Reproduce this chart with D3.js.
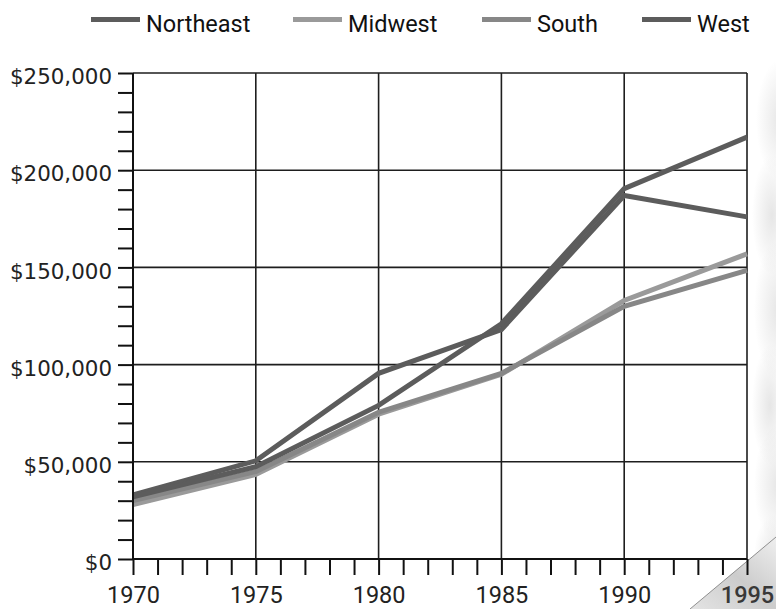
<!DOCTYPE html>
<html>
<head>
<meta charset="utf-8">
<script src="https://cdn.jsdelivr.net/npm/d3@7"></script>
<style>
  html, body { margin: 0; padding: 0; background: #fff; }
  svg { display: block; }
</style>
</head>
<body>
<svg id="chart" width="776" height="609"></svg>
<script>
/* global d3 */
(function() {
    'use strict';

    // values
    var years = [1970, 1975, 1980, 1985, 1990, 1995],
    northeast = [33000, 50500, 95500, 118000, 187000, 176000],
    midwest = [28000, 43500, 74500, 95000, 133000, 157000],
    south = [30000, 45000, 75500, 95500, 130000, 148500],
    west = [32000, 47500, 79000, 121000, 190500, 217000],
    regions = ['Northeast', 'Midwest', 'South', 'West'],
    COLS = ['#5c5c5c', '#9a9a9a', '#878787', '#5c5c5c'],
    yTicks = [0, 50000, 100000, 150000, 200000, 250000];

    var series = [northeast, midwest, south, west];

    var svg = d3.select('#chart'),
    margin = {left: 133, right: 29, top: 73, bottom: 50},
    W = 776, H = 609,
    x = d3.scaleLinear().domain([1970, 1995]).range([margin.left, W - margin.right]),
    y = d3.scaleLinear().domain([0, 250000]).range([H - margin.bottom, margin.top]);

    // soft shading on the right and the page curl
    var defs = svg.append('defs');
    var blob = defs.append('radialGradient').attr('id', 'blob');
    blob.append('stop').attr('offset', '0%').attr('stop-color', '#d2d2d2');
    blob.append('stop').attr('offset', '100%').attr('stop-color', '#d2d2d2').attr('stop-opacity', 0);
    var curl = defs.append('linearGradient').attr('id', 'curl')
        .attr('x1', 0).attr('y1', 1).attr('x2', 1).attr('y2', 0);
    curl.append('stop').attr('offset', '0%').attr('stop-color', '#e4e4e4');
    curl.append('stop').attr('offset', '50%').attr('stop-color', '#cccccc');
    curl.append('stop').attr('offset', '100%').attr('stop-color', '#efefef');

    [[780, 120, 24, 60], [772, 215, 20, 60], [778, 310, 24, 70], [770, 405, 18, 60],
        [778, 485, 24, 60], [774, 555, 20, 40]].forEach(function(b) {
        svg.append('ellipse').attr('cx', b[0]).attr('cy', b[1]).attr('rx', b[2]).attr('ry', b[3])
            .attr('fill', 'url(#blob)').attr('opacity', 0.55);
    });

    // grid
    var grid = svg.append('g').attr('stroke', '#1e1e1e').attr('stroke-width', 1.6);
    grid.selectAll('line.h').data(yTicks.slice(1)).enter().append('line').attr('class', 'h')
        .attr('x1', x(1970)).attr('x2', x(1995))
        .attr('y1', function(d) { return y(d); }).attr('y2', function(d) { return y(d); });
    grid.selectAll('line.v').data(years.slice(1)).enter().append('line').attr('class', 'v')
        .attr('y1', y(0)).attr('y2', y(250000))
        .attr('x1', function(d) { return x(d); }).attr('x2', function(d) { return x(d); });

    // lines
    var line = d3.line()
        .x(function(d, i) { return x(years[i]); })
        .y(function(d) { return y(d); });
    svg.append('g').selectAll('path').data(series).enter().append('path')
        .attr('d', line)
        .attr('fill', 'none')
        .attr('stroke', function(d, i) { return COLS[i]; })
        .attr('stroke-width', 5);

    // axes
    var yAxis = d3.axisLeft(y).tickValues(d3.range(0, 250001, 10000)).tickSize(15)
        .tickFormat(function(d) { return yTicks.indexOf(d) >= 0 ? (d === 0 ? '$0' : d3.format('$,')(d)) : ''; })
        .tickPadding(6);
    var gy = svg.append('g').attr('transform', 'translate(' + margin.left + ',0)').call(yAxis);
    gy.select('.domain').remove();
    gy.append('line').attr('x1', 0).attr('x2', 0).attr('y1', y(0)).attr('y2', y(250000))
        .attr('stroke', '#111').attr('stroke-width', 2);
    gy.selectAll('.tick line').attr('stroke', '#111').attr('stroke-width', 2);
    gy.selectAll('text').attr('font-family', 'DejaVu Sans, sans-serif').attr('font-size', 21.4)
        .attr('fill', '#222').attr('dy', '0.5em');

    // page curl, under the x axis so 1995 stays on top
    svg.append('path').attr('d', 'M690,609 L776,537 L776,609 Z').attr('fill', 'url(#curl)');
    svg.append('line').attr('x1', 690).attr('y1', 609).attr('x2', 776).attr('y2', 537)
        .attr('stroke', '#777').attr('stroke-width', 0.8);

    var xAxis = d3.axisBottom(x).tickValues(d3.range(1970, 1996, 1)).tickSize(16)
        .tickFormat(function(d) { return d % 5 === 0 ? d : ''; }).tickPadding(11);
    var gx = svg.append('g').attr('transform', 'translate(0,' + y(0) + ')').call(xAxis);
    gx.select('.domain').remove();
    gx.append('line').attr('x1', x(1970)).attr('x2', x(1995)).attr('y1', 0).attr('y2', 0)
        .attr('stroke', '#111').attr('stroke-width', 2);
    gx.selectAll('.tick line').attr('stroke', '#111').attr('stroke-width', 2);
    gx.selectAll('text').attr('font-family', 'Roboto, sans-serif').attr('font-size', 23.5)
        .attr('fill', '#222');
    gx.selectAll('.tick').filter(function(d) { return d === 1995; }).select('text')
        .attr('fill', '#383838').attr('font-weight', 500);

    // legend
    var lx = [91, 293, 482, 642];
    var items = svg.append('g').attr('class', 'legend').selectAll('g').data(regions).enter().append('g')
        .attr('transform', function(d, i) { return 'translate(' + lx[i] + ',0)'; });
    items.append('line').attr('x1', 0).attr('x2', 49).attr('y1', 19.5).attr('y2', 19.5)
        .attr('stroke', function(d, i) { return COLS[i]; }).attr('stroke-width', 5);
    items.append('text').attr('x', 55).attr('y', 32).text(function(d) { return d; })
        .attr('font-family', 'Roboto, sans-serif').attr('font-size', 23.5).attr('fill', '#111');
}());
</script>
</body>
</html>
